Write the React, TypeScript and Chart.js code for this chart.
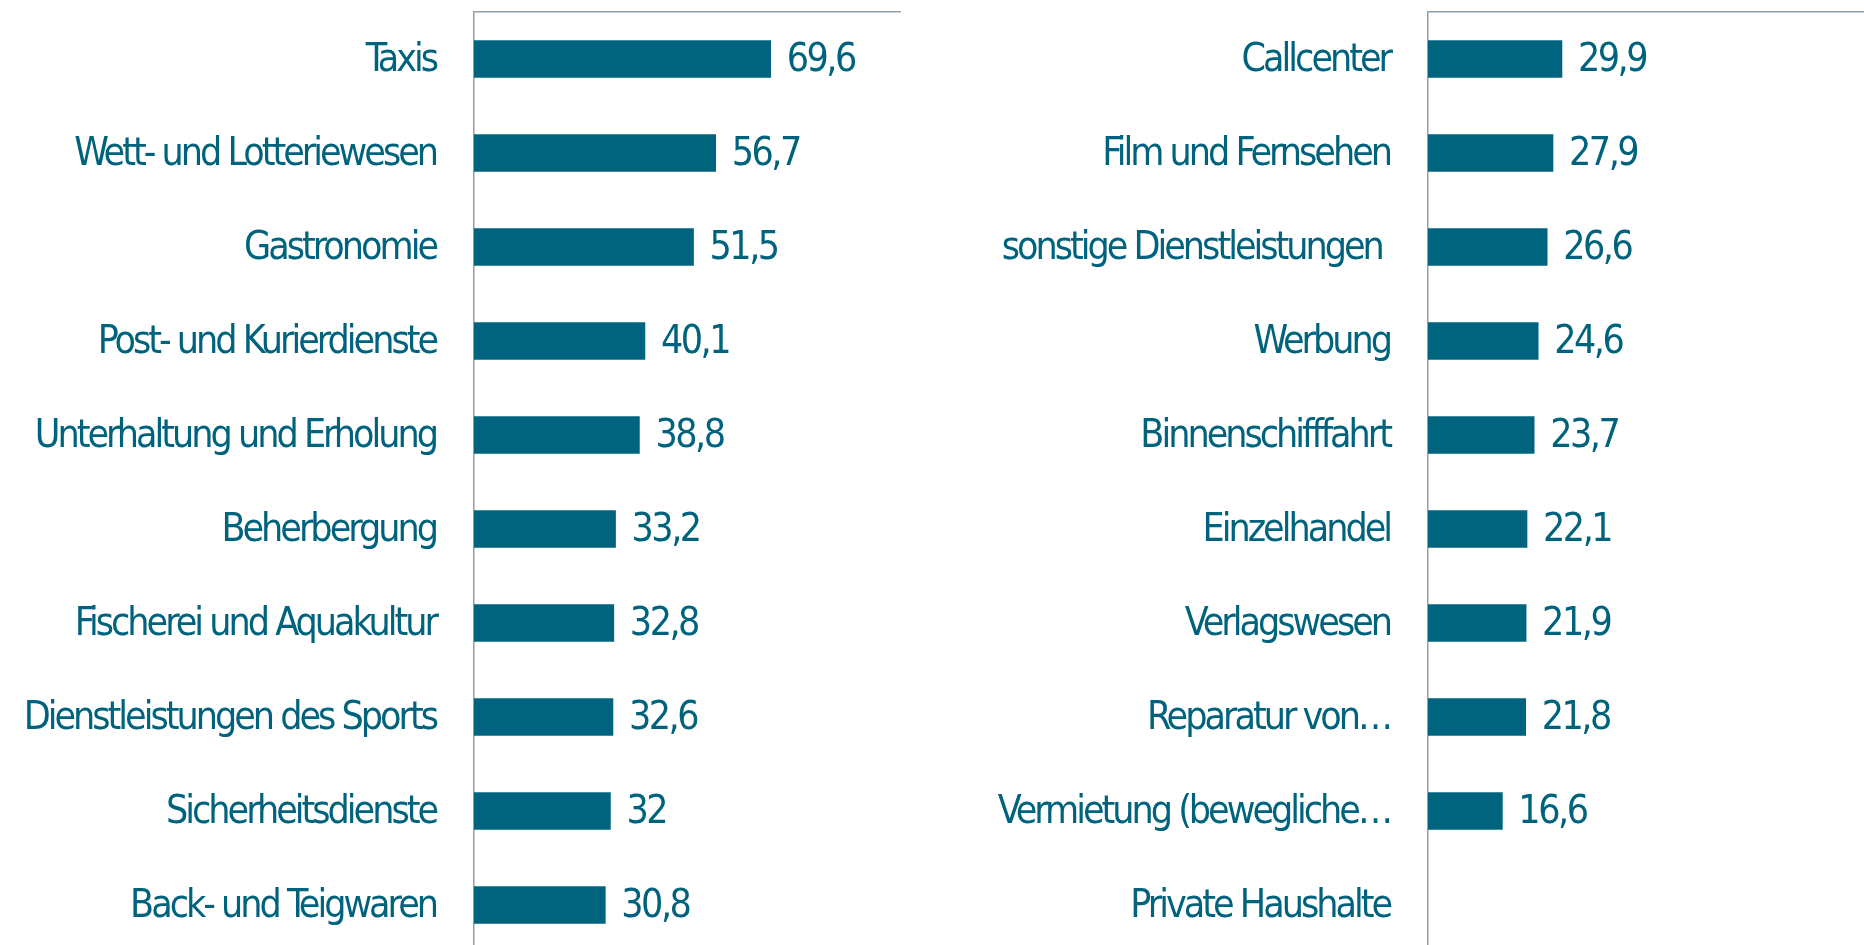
import React, { useEffect, useRef } from "react";
import { Chart, registerables } from "chart.js";

Chart.register(...registerables);

const leftCategories = [
  "Taxis",
  "Wett- und Lotteriewesen",
  "Gastronomie",
  "Post- und Kurierdienste",
  "Unterhaltung und Erholung",
  "Beherbergung",
  "Fischerei und Aquakultur",
  "Dienstleistungen des Sports",
  "Sicherheitsdienste",
  "Back- und Teigwaren",
];
const leftValues: (number | null)[] = [69.6, 56.7, 51.5, 40.1, 38.8, 33.2, 32.8, 32.6, 32, 30.8];

const rightCategories = [
  "Callcenter",
  "Film und Fernsehen",
  "sonstige Dienstleistungen ",
  "Werbung",
  "Binnenschifffahrt",
  "Einzelhandel",
  "Verlagswesen",
  "Reparatur von…",
  "Vermietung (bewegliche…",
  "Private Haushalte",
];
const rightValues: (number | null)[] = [29.9, 27.9, 26.6, 24.6, 23.7, 22.1, 21.9, 21.8, 16.6, null];

const FONT = "'Liberation Sans Narrow', 'Arial Narrow', 'DejaVu Sans Condensed', sans-serif";
const BAR = "#00647F";
const TEXT = "#00637E";
const AXIS = "#8E9FAE";
const FONT_SIZE = 39;
const TRACKING = "-3px";
const VALUE_TRACKING = "-2.5px";

const tightText = {
  id: "tightText",
  beforeDraw(chart: any) {
    (chart.ctx as any).letterSpacing = TRACKING;
  },
};

const valueLabels = {
  id: "valueLabels",
  afterDatasetsDraw(chart: any) {
    const ctx = chart.ctx;
    const ds = chart.data.datasets[0];
    const meta = chart.getDatasetMeta(0);
    ctx.save();
    (ctx as any).letterSpacing = VALUE_TRACKING;
    ctx.font = `${FONT_SIZE}px ${FONT}`;
    ctx.fillStyle = TEXT;
    ctx.textAlign = "left";
    ctx.textBaseline = "middle";
    meta.data.forEach((bar: any, i: number) => {
      const v = ds.data[i];
      if (v == null) return;
      ctx.fillText(String(v).replace(".", ","), bar.x + 16, bar.y + 2);
    });
    ctx.restore();
  },
};

function BarPanel(props: {
  labels: string[];
  values: (number | null)[];
  axisX: number;
  plotWidth: number;
  canvasWidth: number;
}) {
  const ref = useRef<HTMLCanvasElement | null>(null);
  useEffect(() => {
    if (!ref.current) return;
    const chart = new Chart(ref.current, {
      type: "bar",
      data: {
        labels: props.labels,
        datasets: [
          {
            data: props.values as any,
            backgroundColor: BAR,
            borderWidth: 0,
            barThickness: 37,
          },
        ],
      },
      options: {
        indexAxis: "y",
        animation: false,
        responsive: false,
        maintainAspectRatio: false,
        layout: {
          padding: {
            top: 12,
            bottom: 8,
            left: 0,
            right: props.canvasWidth - props.axisX - props.plotWidth,
          },
        },
        plugins: {
          legend: { display: false },
          tooltip: { enabled: false },
        },
        scales: {
          x: {
            position: "top",
            min: 0,
            max: 100,
            ticks: { display: false },
            grid: { display: false, drawTicks: false },
            border: { display: true, color: AXIS, width: 1.5 },
            afterFit: (s: any) => {
              s.height = 0;
              s.paddingLeft = 0;
              s.paddingRight = 0;
            },
          },
          y: {
            type: "category",
            ticks: {
              color: TEXT,
              font: { family: FONT, size: FONT_SIZE },
              padding: 38,
              labelOffset: 2,
              autoSkip: false,
            },
            grid: { display: false, drawTicks: false },
            border: { display: true, color: AXIS, width: 1.5 },
            afterFit: (s: any) => {
              s.width = props.axisX;
              s.paddingTop = 0;
              s.paddingBottom = 0;
            },
          },
        },
      },
      plugins: [tightText, valueLabels],
    });
    return () => chart.destroy();
  }, []);
  return (
    <canvas
      ref={ref}
      width={props.canvasWidth}
      height={960}
      style={{ display: "block", width: props.canvasWidth, height: 960 }}
    />
  );
}

export default function App() {
  useEffect(() => {
    document.body.style.margin = "0";
    document.body.style.overflow = "hidden";
  }, []);
  return (
    <div style={{ position: "relative", width: 1864, height: 945, overflow: "hidden", background: "#fff" }}>
      <div style={{ position: "absolute", left: 0, top: 0, width: 932, height: 945, overflow: "hidden" }}>
        <BarPanel labels={leftCategories} values={leftValues} axisX={474} plotWidth={426.3} canvasWidth={932} />
      </div>
      <div style={{ position: "absolute", left: 932, top: 0, width: 932, height: 945, overflow: "hidden" }}>
        <BarPanel labels={rightCategories} values={rightValues} axisX={496} plotWidth={448} canvasWidth={950} />
      </div>
    </div>
  );
}
